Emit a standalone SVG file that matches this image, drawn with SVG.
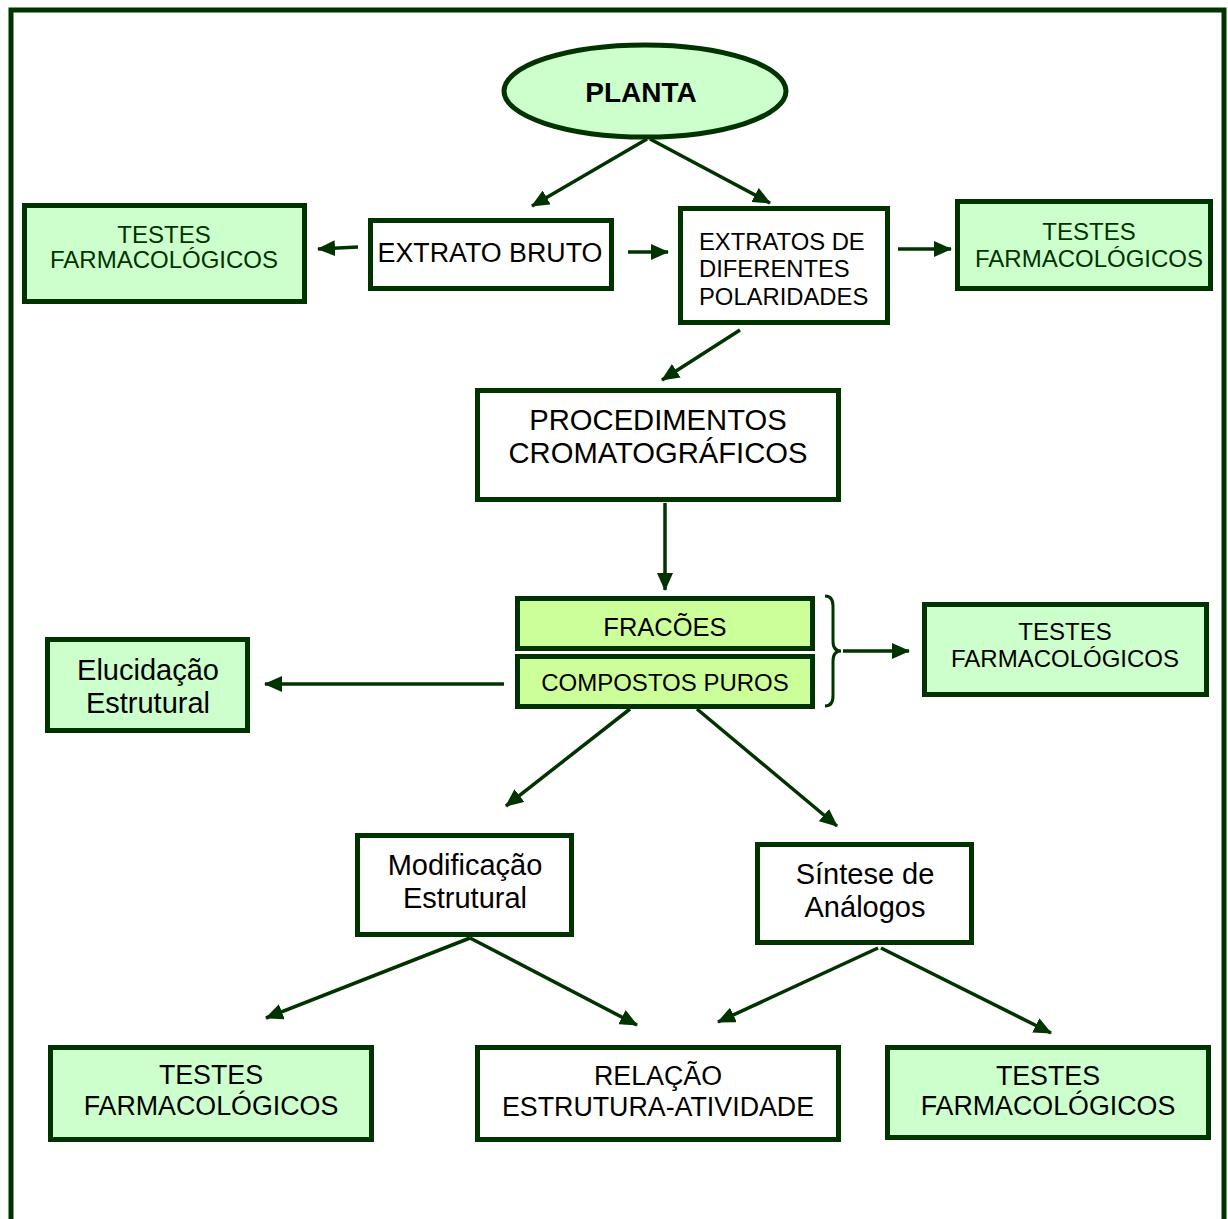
<svg xmlns="http://www.w3.org/2000/svg" width="1228" height="1219" viewBox="0 0 1228 1219">
<defs>
<style>
.box{stroke:#003300;stroke-width:5}
.g{fill:#ccffcc}
.y{fill:#ccff99}
.w{fill:#ffffff}
.t{font-family:"Liberation Sans",Arial,sans-serif;fill:#000;text-anchor:middle}
.s{text-anchor:start}
.dg{fill:#003300}
.c{stroke:#003300;stroke-width:3.5;fill:none;marker-end:url(#ah)}
</style>
<marker id="ah" markerUnits="userSpaceOnUse" markerWidth="18" markerHeight="16" refX="17" refY="8" orient="auto" viewBox="0 0 18 16">
<path d="M0,0 L18,8 L0,16 z" fill="#003300"/>
</marker>
</defs>
<rect x="0" y="0" width="1228" height="1219" fill="#ffffff"/>
<rect x="11" y="10" width="1213" height="1240" fill="none" stroke="#003300" stroke-width="5"/>

<g id="connectors">
<line class="c" x1="647" y1="139" x2="532" y2="206"/>
<line class="c" x1="650" y1="139" x2="770" y2="203"/>
<line class="c" x1="358" y1="247" x2="318" y2="249"/>
<line class="c" x1="628" y1="252" x2="668" y2="252"/>
<line class="c" x1="898" y1="249" x2="951" y2="249"/>
<line class="c" x1="740" y1="330" x2="662" y2="380"/>
<line class="c" x1="665" y1="503" x2="665" y2="590"/>
<path d="M825,596 Q833,596 833,606 L833,641 Q833,651 841,651 Q833,651 833,661 L833,696 Q833,706 825,706" fill="none" stroke="#003300" stroke-width="3"/>
<line class="c" x1="843" y1="651" x2="909" y2="651"/>
<line class="c" x1="504" y1="684" x2="265" y2="684"/>
<line class="c" x1="630" y1="709" x2="506" y2="806"/>
<line class="c" x1="697" y1="709" x2="837" y2="826"/>
<line class="c" x1="470" y1="938" x2="266" y2="1018"/>
<line class="c" x1="470" y1="938" x2="637" y2="1025"/>
<line class="c" x1="878" y1="948" x2="718" y2="1022"/>
<line class="c" x1="881" y1="948" x2="1051" y2="1033"/>
</g>

<g id="planta">
<ellipse class="box g" cx="645" cy="91" rx="141" ry="46"/>
<text class="t" x="641" y="102" font-size="28" font-weight="bold">PLANTA</text>
</g>

<g id="testes1">
<rect class="box g" x="24.5" y="205.5" width="280" height="96"/>
<text class="t dg" x="164" y="243" font-size="24">TESTES</text>
<text class="t dg" x="164" y="268" font-size="24">FARMACOLÓGICOS</text>
</g>

<g id="extrato-bruto">
<rect class="box w" x="370.5" y="220.5" width="241" height="68"/>
<text class="t" x="490" y="262" font-size="26.8">EXTRATO BRUTO</text>
</g>

<g id="extratos-polaridades">
<rect class="box w" x="680.5" y="208.5" width="207" height="114"/>
<text class="t s" x="699" y="250" font-size="23.8">EXTRATOS DE</text>
<text class="t s" x="699" y="277" font-size="23.8">DIFERENTES</text>
<text class="t s" x="699" y="305" font-size="23.8">POLARIDADES</text>
</g>

<g id="testes2">
<rect class="box g" x="957.5" y="201.5" width="253" height="87"/>
<text class="t dg" x="1089" y="240" font-size="24">TESTES</text>
<text class="t dg" x="1089" y="267" font-size="24">FARMACOLÓGICOS</text>
</g>

<g id="procedimentos">
<rect class="box w" x="477.5" y="390.5" width="361" height="109"/>
<text class="t" x="658" y="430" font-size="29.2">PROCEDIMENTOS</text>
<text class="t" x="658" y="463" font-size="29.2">CROMATOGRÁFICOS</text>
</g>

<g id="fracoes">
<rect class="box y" x="517.5" y="598.5" width="295" height="50"/>
<text class="t" x="665" y="636" font-size="25.5">FRACÕES</text>
</g>

<g id="compostos">
<rect class="box y" x="517.5" y="656.5" width="295" height="50"/>
<text class="t" x="665" y="691" font-size="24">COMPOSTOS PUROS</text>
</g>

<g id="testes3">
<rect class="box g" x="924.5" y="604.5" width="282" height="90"/>
<text class="t" x="1065" y="640" font-size="24">TESTES</text>
<text class="t" x="1065" y="667" font-size="24">FARMACOLÓGICOS</text>
</g>

<g id="elucidacao">
<rect class="box g" x="47.5" y="639.5" width="200" height="91"/>
<text class="t" x="148" y="680" font-size="29">Elucidação</text>
<text class="t" x="148" y="713" font-size="29">Estrutural</text>
</g>

<g id="modificacao">
<rect class="box w" x="357.5" y="835.5" width="214" height="99"/>
<text class="t" x="465" y="875" font-size="29">Modificação</text>
<text class="t" x="465" y="908" font-size="29">Estrutural</text>
</g>

<g id="sintese">
<rect class="box w" x="757.5" y="844.5" width="214" height="98"/>
<text class="t" x="865" y="884" font-size="29">Síntese de</text>
<text class="t" x="865" y="917" font-size="29">Análogos</text>
</g>

<g id="testes4">
<rect class="box g" x="50.5" y="1047.5" width="321" height="92"/>
<text class="t" x="211" y="1084" font-size="26.8">TESTES</text>
<text class="t" x="211" y="1115" font-size="26.8">FARMACOLÓGICOS</text>
</g>

<g id="relacao">
<rect class="box w" x="477.5" y="1047.5" width="361" height="92"/>
<text class="t" x="658" y="1085" font-size="26.8">RELAÇÃO</text>
<text class="t" x="658" y="1116" font-size="26.8">ESTRUTURA-ATIVIDADE</text>
</g>

<g id="testes5">
<rect class="box g" x="887.5" y="1047.5" width="321" height="90"/>
<text class="t" x="1048" y="1085" font-size="26.8">TESTES</text>
<text class="t" x="1048" y="1115" font-size="26.8">FARMACOLÓGICOS</text>
</g>
</svg>
